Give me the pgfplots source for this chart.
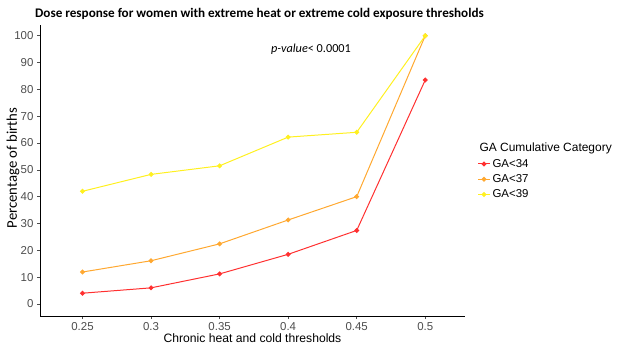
\documentclass[border=0pt]{standalone}
\usepackage{fontspec}
\setmainfont{Liberation Sans}
\newfontfamily\carlito{Carlito}
\usepackage{pgfplots}
\pgfplotsset{compat=1.18}
\definecolor{tickgray}{HTML}{4D4D4D}
\definecolor{cRed}{HTML}{FF3030}
\definecolor{cOrange}{HTML}{FFA830}
\definecolor{cYellow}{HTML}{FFF020}
\begin{document}
\begin{tikzpicture}[x=1bp,y=1bp]
\useasboundingbox (0,0) rectangle (624,351);
\begin{axis}[
  at={(40bp,35bp)}, anchor=south west,
  scale only axis, width=425bp, height=291bp,
  xmin=0.219, xmax=0.529, ymin=-4.5, ymax=104,
  axis x line*=bottom, axis y line*=left,
  axis line style={black, line width=0.6pt},
  xtick={0.25,0.3,0.35,0.4,0.45,0.5},
  xticklabels={0.25,0.3,0.35,0.4,0.45,0.5},
  ytick={0,10,...,100},
  tick align=outside, major tick length=3bp,
  tick style={tickgray, line width=0.5pt},
  /pgf/number format/assume math mode=true,
  ticklabel style={font=\fontsize{11.5}{13}\selectfont, text=tickgray},
  xlabel={Chronic heat and cold thresholds},
  xlabel style={font=\fontsize{12.2}{14}\selectfont, yshift=4bp},
  legend style={at={(1.022,0.608)}, anchor=north west, draw=none, fill=none,
    font=\fontsize{11.5}{13}\selectfont, row sep=1.8bp},
  legend cell align=left,
  legend image code/.code={\draw[#1] (0bp,0bp) -- (12bp,0bp); \path[#1, only marks] plot coordinates {(6bp,0bp)};},
]
\addlegendimage{empty legend}
\addlegendentry{\hspace*{-13bp}\fontsize{12}{14}\selectfont GA Cumulative Category}
\addplot[cRed, line width=1pt, mark=*, mark size=1.9bp] coordinates {
(0.25,4.0) (0.3,6.0) (0.35,11.2) (0.4,18.5) (0.45,27.4) (0.5,83.5)};
\addlegendentry{GA<34}
\addplot[cOrange, line width=1pt, mark=*, mark size=1.9bp] coordinates {
(0.25,11.9) (0.3,16.1) (0.35,22.4) (0.4,31.3) (0.45,40.0) (0.5,100)};
\addlegendentry{GA<37}
\addplot[cYellow, line width=1pt, mark=*, mark size=1.9bp] coordinates {
(0.25,42.0) (0.3,48.3) (0.35,51.5) (0.4,62.2) (0.45,64.0) (0.5,100)};
\addlegendentry{GA<39}
\node[font=\carlito\fontsize{12.3}{14}\selectfont] at (axis cs:0.4167,95) {\textit{p-value}< 0.0001};
\end{axis}
\node[font=\carlito\bfseries\fontsize{13.2}{16}\selectfont] at (259.5,337) {Dose response for women with extreme heat or extreme cold exposure thresholds};
\node[font=\carlito\fontsize{14.8}{17}\selectfont, rotate=90] at (13,183) {Percentage of births};
\end{tikzpicture}
\end{document}
